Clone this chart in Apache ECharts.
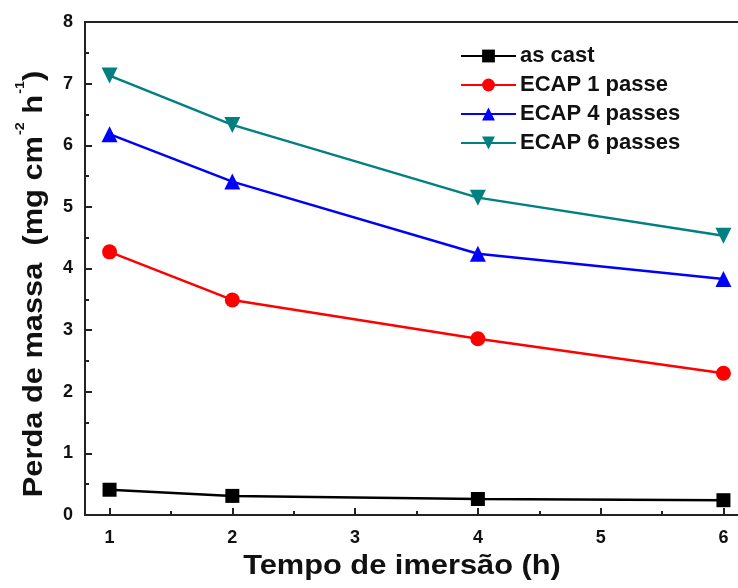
<!DOCTYPE html>
<html>
<head>
<meta charset="utf-8">
<script src="https://cdn.jsdelivr.net/npm/echarts@6/dist/echarts.min.js"></script>
<style>
  html, body { margin: 0; padding: 0; background: #fff; overflow: hidden; }
  /* the frame runs on past the right edge of the window */
  #chart { width: 760px; height: 588px; }
</style>
</head>
<body>
<div id="chart"></div>
<script>
// Immersion time (h) and mass loss rate (mg cm^-2 h^-1) per processing route
const times = [1, 2, 4, 6];
const seriesNames = ['as cast', 'ECAP 1 passe', 'ECAP 4 passes', 'ECAP 6 passes'];
const asCast = [0.41, 0.31, 0.26, 0.24];
const ecap1 = [4.27, 3.49, 2.86, 2.30];
const ecap4 = [6.18, 5.41, 4.24, 3.83];
const ecap6 = [7.13, 6.33, 5.15, 4.53];

const colors = ['#000000', '#ff0000', '#0000ff', '#008080'];
const symbols = ['rect', 'circle', 'triangle', 'path://M0,0 L10,0 L5,9 Z'];
const sizes = [14, 15, 16, 16];
const values = [asCast, ecap1, ecap4, ecap6];

const font = 'Liberation Sans, Arial, sans-serif';

const chart = echarts.init(document.getElementById('chart'));

const series = values.map((vals, i) => ({
  name: seriesNames[i],
  type: 'line',
  data: times.map((t, j) => [t, vals[j]]),
  symbol: symbols[i],
  symbolSize: sizes[i],
  showAllSymbol: true,
  lineStyle: { color: colors[i], width: 2.5 },
  itemStyle: { color: colors[i] },
  z: 3 + i
}));

chart.setOption({
  animation: false,
  backgroundColor: '#ffffff',
  grid: {
    left: 85, top: 22, width: 663, height: 493,
    show: true, borderColor: '#222', borderWidth: 2, backgroundColor: 'transparent'
  },
  legend: {
    orient: 'vertical',
    left: 455, top: 40,
    itemWidth: 55, itemHeight: 16, itemGap: 7,
    data: seriesNames,
    textStyle: { fontFamily: font, fontWeight: 'bold', fontSize: 22, color: '#111', padding: [0, 0, 0, -1] }
  },
  xAxis: {
    type: 'value',
    min: 0.8, max: 6.2,
    splitNumber: 5,
    axisLine: { show: true, lineStyle: { color: '#222', width: 2 } },
    axisTick: { show: true, inside: true, length: 7, lineStyle: { color: '#222', width: 2 } },
    minorTick: { show: true, splitNumber: 2, length: 4, lineStyle: { color: '#222', width: 2 } },
    splitLine: { show: false },
    axisLabel: {
      showMinLabel: false, showMaxLabel: false,
      margin: 14,
      fontFamily: font, fontWeight: 'bold', fontSize: 18, color: '#111'
    }
  },
  yAxis: {
    type: 'value',
    min: 0, max: 8, interval: 1,
    axisLine: { show: true, lineStyle: { color: '#222', width: 2 } },
    axisTick: { show: true, inside: true, length: 7, lineStyle: { color: '#222', width: 2 } },
    minorTick: { show: true, splitNumber: 2, length: 4, lineStyle: { color: '#222', width: 2 } },
    splitLine: { show: false },
    axisLabel: {
      margin: 12,
      fontFamily: font, fontWeight: 'bold', fontSize: 18, color: '#111'
    }
  },
  graphic: [
    {
      type: 'text',
      x: 402, y: 566,
      scaleX: 1.1,
      style: {
        text: 'Tempo de imersão (h)',
        fontFamily: font, fontWeight: 'bold', fontSize: 28, fill: '#111',
        align: 'center', verticalAlign: 'middle'
      }
    },
    {
      type: 'text',
      x: 31, y: 284,
      rotation: Math.PI / 2,
      scaleX: 1.1,
      style: {
        text: '{m|Perda de massa  (mg cm}{s|-2}{m| h}{s|-1}{m|)}',
        align: 'center', verticalAlign: 'middle',
        rich: {
          m: { fontFamily: font, fontWeight: 'bold', fontSize: 28, fill: '#111', lineHeight: 34, verticalAlign: 'bottom' },
          s: { fontFamily: font, fontWeight: 'bold', fontSize: 13, fill: '#111', lineHeight: 34, verticalAlign: 'top', padding: [0, 0, 0, 1] }
        }
      }
    }
  ],
  series: series
});
</script>
</body>
</html>
